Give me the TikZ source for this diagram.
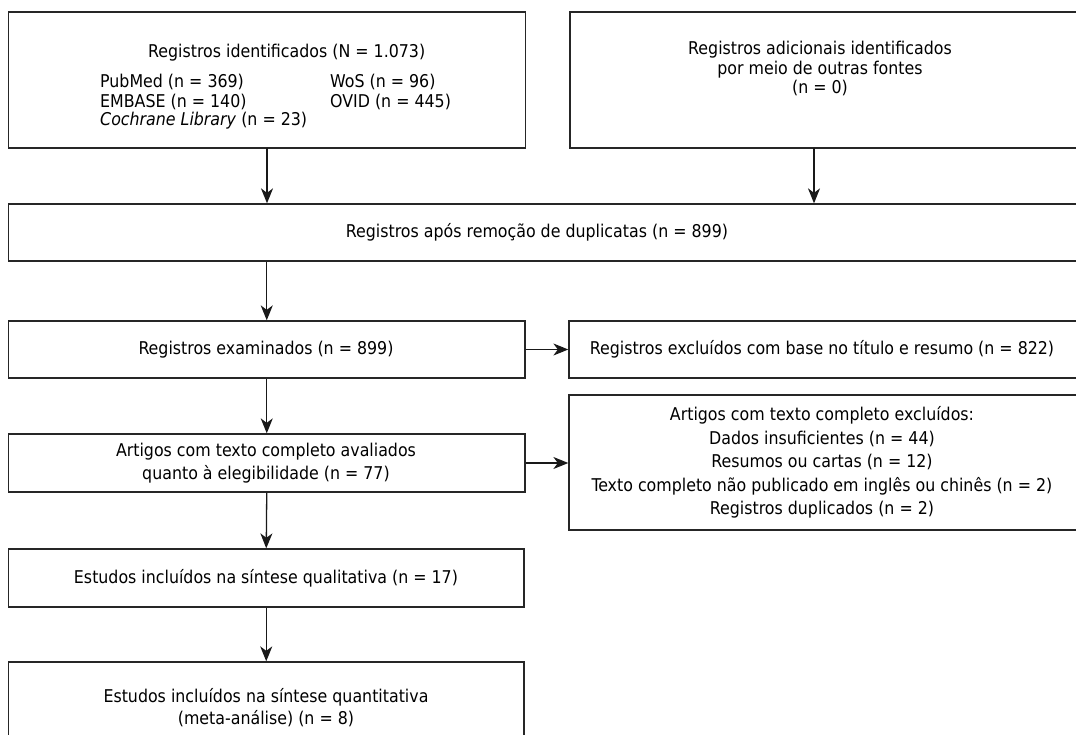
\documentclass[tikz,border=0pt]{standalone}
\usepackage{fontspec}
\setmainfont{DejaVu Sans Condensed}
\usetikzlibrary{arrows.meta}
\tikzset{
  box/.style={draw=black!85, line width=1.3pt, fill=none, inner sep=0pt, align=center},
  txt/.style={inner sep=0pt, align=center, font=\fontsize{17.6}{23.5}\selectfont},
  tight/.style={font=\fontsize{17.6}{19.5}\selectfont},
  arr/.style={draw=black!90, line width=1.3pt, -{Stealth[length=15pt,width=12pt,inset=4.5pt]}},
}
\begin{document}
\begin{tikzpicture}[x=1pt,y=-1pt]
\useasboundingbox (0,0) rectangle (1076,735);
% boxes
\node[box, minimum width=517pt, minimum height=136pt] (b1) at (267,80) {};
\node[box, minimum width=508pt, minimum height=136pt] (b2) at (824,80) {};
\node[box, minimum width=1069.5pt, minimum height=57pt] (b3) at (543.25,232.5) {};
\node[box, minimum width=516.5pt, minimum height=57pt] (b4) at (266.75,349.5) {};
\node[box, minimum width=509pt, minimum height=57pt] (b4r) at (823.5,349.5) {};
\node[box, minimum width=516.5pt, minimum height=58pt] (b5) at (266.75,463) {};
\node[box, minimum width=509pt, minimum height=135pt] (b5r) at (823.5,462.5) {};
\node[box, minimum width=515.5pt, minimum height=58pt] (b6) at (266.25,578) {};
\node[box, minimum width=515.5pt, minimum height=80pt] (b7) at (266.25,702) {};
% texts
\node[txt, anchor=west] (t1) at (148,53) {Registros identificados (N = 1.073)};
\node[txt, anchor=west] (t1a) at (100,82) {PubMed (n = 369)};
\node[txt, anchor=west] (t1b) at (100,101.5) {EMBASE (n = 140)};
\node[txt, anchor=west] (t1c) at (100,121) {\textit{Cochrane Library} (n = 23)};
\node[txt, anchor=west] (t1d) at (330,82) {WoS (n = 96)};
\node[txt, anchor=west] (t1e) at (330,101.5) {OVID (n = 445)};
\node[txt, tight] (t2) at (820,68.5) {Registros adicionais identificados\\por meio de outras fontes\\(n = 0)};
\node[txt] (t3) at (537,232.5) {Registros após remoção de duplicatas (n = 899)};
\node[txt] (t4) at (266,349.5) {Registros examinados (n = 899)};
\node[txt] (t4r) at (822,349.5) {Registros excluídos com base no título e resumo (n = 822)};
\node[txt] (t5) at (266,463) {Artigos com texto completo avaliados\\quanto à elegibilidade (n = 77)};
\node[txt] (t5r) at (822,462.5) {Artigos com texto completo excluídos:\\Dados insuficientes (n = 44)\\Resumos ou cartas (n = 12)\\Texto completo não publicado em inglês ou chinês (n = 2)\\Registros duplicados (n = 2)};
\node[txt] (t6) at (266,578) {Estudos incluídos na síntese qualitativa (n = 17)};
\node[txt, font=\fontsize{17.6}{21.5}\selectfont] (t7) at (266,707.5) {Estudos incluídos na síntese quantitativa\\(meta-análise) (n = 8)};
% connectors
\coordinate (c1) at (267,148);
\draw[arr] (c1) -- (c1 |- b3.north);
\coordinate (c2) at (814,148);
\draw[arr] (c2) -- (c2 |- b3.north);
\draw[arr] (b3.south -| b4.south) -- (b4.north);
\draw[arr] (b4.south) -- (b5.north);
\draw[arr] (b5.south) -- (b6.north);
\draw[arr] (b6.south) -- (b7.north);
\draw[arr] (b4.east) -- (b4r.west);
\draw[arr] (b5.east) -- (b5r.west |- b5.east);
\end{tikzpicture}
\end{document}
